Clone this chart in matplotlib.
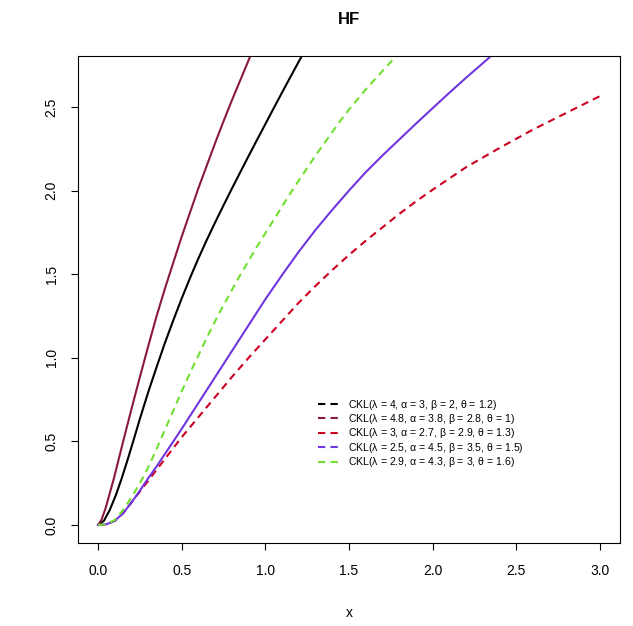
import matplotlib
matplotlib.use("Agg")
import matplotlib.pyplot as plt

plt.rcParams['font.family'] = ['Liberation Sans', 'DejaVu Sans']
plt.rcParams['mathtext.fontset'] = 'custom'
plt.rcParams['mathtext.rm'] = 'Liberation Sans'
plt.rcParams['mathtext.it'] = 'Liberation Sans'

# hazard function curves
x_black = [0, 0.035, 0.07, 0.105, 0.14, 0.175, 0.21, 0.25, 0.3, 0.35, 0.4, 0.45, 0.5,
           0.55, 0.6, 0.65, 0.7, 0.75, 0.8, 0.85, 0.9, 0.95, 1.0, 1.05, 1.1, 1.15, 1.2, 1.25]
y_black = [0, 0.025, 0.09, 0.175, 0.275, 0.385, 0.5, 0.635, 0.795, 0.945, 1.09, 1.225, 1.355,
           1.478, 1.595, 1.705, 1.81, 1.912, 2.012, 2.11, 2.207, 2.303, 2.398, 2.493, 2.587,
           2.68, 2.772, 2.863]

x_brown = [0, 0.02, 0.045, 0.07, 0.095, 0.12, 0.15, 0.2, 0.25, 0.3, 0.35, 0.4, 0.45, 0.5,
           0.55, 0.6, 0.65, 0.7, 0.75, 0.8, 0.85, 0.9, 0.92]
y_brown = [0, 0.03, 0.1, 0.19, 0.28, 0.38, 0.5, 0.695, 0.885, 1.07, 1.25, 1.415, 1.57, 1.725,
           1.87, 2.015, 2.15, 2.285, 2.415, 2.54, 2.66, 2.78, 2.83]

x_red = [0, 0.05, 0.1, 0.15, 0.2, 0.25, 0.3, 0.35, 0.4, 0.5, 0.6, 0.7, 0.8, 0.9, 1.0, 1.1,
         1.2, 1.3, 1.4, 1.5, 1.6, 1.7, 1.8, 1.9, 2.0, 2.2, 2.4, 2.6, 2.8, 3.0]
y_red = [0, 0.004, 0.025, 0.07, 0.135, 0.2, 0.265, 0.33, 0.395, 0.525, 0.645, 0.765, 0.885,
         1.0, 1.11, 1.22, 1.33, 1.43, 1.525, 1.615, 1.7, 1.78, 1.86, 1.935, 2.005, 2.14,
         2.255, 2.365, 2.465, 2.565]

x_purple = [0, 0.05, 0.1, 0.15, 0.2, 0.25, 0.3, 0.35, 0.4, 0.45, 0.5, 0.6, 0.7, 0.8, 0.9,
            1.0, 1.1, 1.2, 1.3, 1.4, 1.5, 1.6, 1.7, 1.8, 1.9, 2.0, 2.1, 2.2, 2.3, 2.4]
y_purple = [0, 0.004, 0.025, 0.07, 0.135, 0.205, 0.28, 0.35, 0.425, 0.5, 0.575, 0.73, 0.885,
            1.04, 1.195, 1.35, 1.495, 1.635, 1.765, 1.885, 2.0, 2.11, 2.21, 2.305, 2.4, 2.493,
            2.585, 2.675, 2.762, 2.85]

x_green = [0, 0.05, 0.1, 0.15, 0.2, 0.25, 0.3, 0.35, 0.4, 0.45, 0.5, 0.55, 0.6, 0.65, 0.7,
           0.75, 0.8, 0.85, 0.9, 0.95, 1.0, 1.05, 1.1, 1.15, 1.2, 1.25, 1.3, 1.35, 1.4, 1.45,
           1.5, 1.55, 1.6, 1.65, 1.7, 1.75, 1.8]
y_green = [0, 0.005, 0.03, 0.09, 0.165, 0.25, 0.345, 0.455, 0.57, 0.685, 0.8, 0.91, 1.015,
           1.12, 1.22, 1.315, 1.405, 1.495, 1.58, 1.665, 1.745, 1.825, 1.905, 1.985, 2.06,
           2.135, 2.21, 2.28, 2.35, 2.42, 2.485, 2.545, 2.605, 2.66, 2.715, 2.77, 2.825]

labels = [
    r"CKL($\lambda$ = 4, $\alpha$ = 3, $\beta$ = 2, $\theta$ = 1.2)",
    r"CKL($\lambda$ = 4.8, $\alpha$ = 3.8, $\beta$ = 2.8, $\theta$ = 1)",
    r"CKL($\lambda$ = 3, $\alpha$ = 2.7, $\beta$ = 2.9, $\theta$ = 1.3)",
    r"CKL($\lambda$ = 2.5, $\alpha$ = 4.5, $\beta$ = 3.5, $\theta$ = 1.5)",
    r"CKL($\lambda$ = 2.9, $\alpha$ = 4.3, $\beta$ = 3, $\theta$ = 1.6)",
]
colors = ["black", "#8B1A3A", "#CC0022", "#6F35E0", "#70E030"]
styles = ["-", "-", "--", "-", "--"]

xticks = [0.0, 0.5, 1.0, 1.5, 2.0, 2.5, 3.0]
yticks = [0.0, 0.5, 1.0, 1.5, 2.0, 2.5]

fig = plt.figure(figsize=(6.33, 6.26), dpi=100)
ax = fig.add_axes([78/633, 83/626, 542/633, 487.5/626])

data = [(x_black, y_black), (x_brown, y_brown), (x_red, y_red),
        (x_purple, y_purple), (x_green, y_green)]
for (xs, ys), c, ls in zip(data, colors, styles):
    line, = ax.plot(xs, ys, color=c, lw=1.5, ls=ls)
    if ls == "--":
        line.set_dashes((3.5, 2.5))

ax.set_xlim(-0.12, 3.12)
ax.set_ylim(-0.108, 2.808)
ax.set_xticks(xticks)
ax.set_xticklabels(["%.1f" % t for t in xticks])
ax.set_yticks(yticks)
ax.set_yticklabels(["%.1f" % t for t in yticks], rotation=90, va="center")
ax.tick_params(length=5, width=0.8, labelsize=10, color="black")
ax.tick_params(axis="x", pad=10)
ax.tick_params(axis="y", pad=9)
for s in ax.spines.values():
    s.set_linewidth(0.8)

ax.set_title("HF", fontsize=12, fontweight="bold", pad=23)
ax.set_xlabel("x", fontsize=10, labelpad=20)

# legend with dashed handles and no frame
handles = []
for c in colors:
    h, = ax.plot([], [], color=c, lw=1.5, ls="--")
    h.set_dashes((3.5, 2.5))
    handles.append(h)
ax.legend(handles, labels, loc="upper left", bbox_to_anchor=(0.433, 0.309),
          frameon=False, fontsize=7.6, handlelength=2.0, handletextpad=0.8,
          labelspacing=0.04, borderpad=0)

fig.savefig("out.png", dpi=100)
